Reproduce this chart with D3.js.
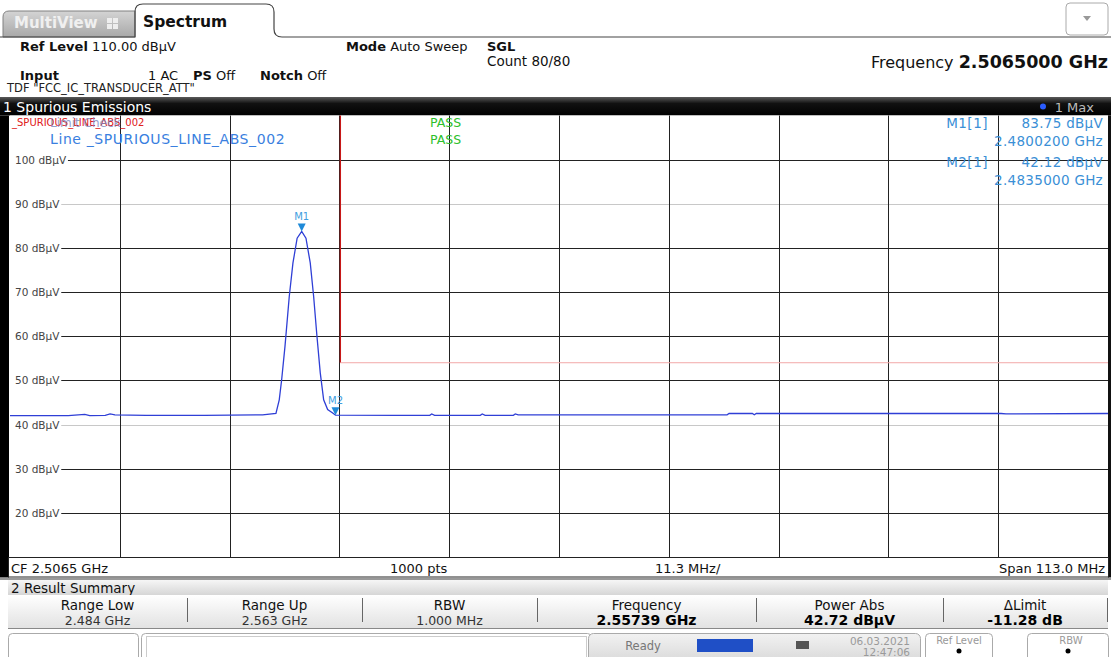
<!DOCTYPE html>
<html>
<head>
<meta charset="utf-8">
<script src="https://cdn.jsdelivr.net/npm/d3@7.9.0/dist/d3.min.js"></script>
<style>
  html, body { margin: 0; padding: 0; background: #fff; }
  svg { display: block; font-family: "DejaVu Sans", Verdana, sans-serif; }
</style>
</head>
<body>
<div id="chart"></div>
<script>
// trace (GHz, dBµV)
const traceFreq = [
  2.4500, 2.4560, 2.4577, 2.4582, 2.4598, 2.4603, 2.4608, 2.4640, 2.4700, 2.4760,
  2.47737, 2.47771, 2.47796, 2.47830, 2.47874, 2.47912, 2.47955, 2.48002,
  2.48046, 2.48090, 2.48125, 2.48159, 2.48193, 2.48228, 2.48269, 2.48321, 2.4835,
  2.4900, 2.4932, 2.4934, 2.4937, 2.4984, 2.4986, 2.4989, 2.5018, 2.5020, 2.5023,
  2.5100, 2.5238, 2.5240, 2.5264, 2.5266, 2.5268, 2.5400, 2.5520, 2.5525, 2.5630,
];
const traceLevel = [
  42.0, 42.0, 42.3, 42.0, 42.1, 42.4, 42.2, 42.1, 42.1, 42.2,
  42.5, 45.6, 50.2, 57.7, 69.0, 76.6, 82.2, 83.75,
  82.2, 76.6, 69.0, 60.0, 51.7, 45.6, 43.4, 42.6, 42.12,
  42.1, 42.1, 42.4, 42.1, 42.1, 42.4, 42.1, 42.1, 42.4, 42.2,
  42.2, 42.2, 42.5, 42.5, 42.2, 42.5, 42.5, 42.5, 42.4, 42.5,
];

// limit line _SPURIOUS_LINE_ABS_002
const limitFreq = [2.45, 2.484, 2.484, 2.563];
const limitLevel = [118, 118, 54, 54];

const markers = [
  { name: 'M1', freq: 2.48002, level: 83.75, label: 'M1[1]', value: '83.75 dBµV', freqText: '2.4800200 GHz' },
  { name: 'M2', freq: 2.4835, level: 42.12, label: 'M2[1]', value: '42.12 dBµV', freqText: '2.4835000 GHz' },
];

const yTicks = [100, 90, 80, 70, 60, 50, 40, 30, 20];
const lightTicks = [90, 40];
const xGrid = [2.4613, 2.4726, 2.4839, 2.4952, 2.5065, 2.5178, 2.5291, 2.5404, 2.5517];

const summaryHeads = ['Range Low', 'Range Up', 'RBW', 'Frequency', 'Power Abs', 'ΔLimit'];
const summaryValues = ['2.484 GHz', '2.563 GHz', '1.000 MHz', '2.55739 GHz', '42.72 dBµV', '-11.28 dB'];
const summaryBold = [false, false, false, true, true, true];

const width = 1111;
const height = 657;
const plot = { left: 10, right: 1108, top: 115.5, bottom: 557 };

const svg = d3.select('#chart').append('svg')
  .attr('width', width).attr('height', height);

const defs = svg.append('defs');
function grad(id, stops) {
  const g = defs.append('linearGradient').attr('id', id)
    .attr('x1', 0).attr('y1', 0).attr('x2', 0).attr('y2', 1);
  stops.forEach(([o, c]) => g.append('stop').attr('offset', o).attr('stop-color', c));
}
grad('gTab', [[0, '#d4d4d4'], [1, '#a8a8a8']]);
grad('gBar', [[0, '#5a5a5a'], [0.35, '#111'], [1, '#000']]);
grad('gSum', [[0, '#f6f6f6'], [1, '#d6d6d6']]);
grad('gRow', [[0, '#ffffff'], [1, '#e2e2e2']]);
grad('gStatus', [[0, '#f2f2f2'], [1, '#d8d8d8']]);
defs.append('clipPath').attr('id', 'clip').append('rect')
  .attr('x', plot.left).attr('y', plot.top)
  .attr('width', plot.right - plot.left).attr('height', plot.bottom - plot.top);

// ---- tabs ----
svg.append('path')
  .attr('d', 'M3,37 L3,17 Q3,11 9,11 L135,11 L135,37 Z')
  .attr('fill', 'url(#gTab)').attr('stroke', '#808080');
svg.append('text').attr('x', 14).attr('y', 28)
  .attr('font-size', 15).attr('font-weight', 'bold').attr('fill', '#f0f0f0')
  .text('MultiView');
const icon = svg.append('g').attr('fill', '#eee');
[[107, 18], [113, 18], [107, 24], [113, 24]].forEach(([x, y]) =>
  icon.append('rect').attr('x', x).attr('y', y).attr('width', 5).attr('height', 5));
svg.append('path')
  .attr('d', 'M0,37 L135,37 L135,12 Q135,4 143,4 L266,4 Q274,4 274,12 L274,29 Q274,37 282,37 L1111,37')
  .attr('fill', 'none').attr('stroke', '#444').attr('stroke-width', 1.2);
svg.append('path').attr('d', 'M136,37 L136,12 Q136,5 143,5 L266,5 Q273,5 273,12 L273,37 Z')
  .attr('fill', '#fff');
svg.append('text').attr('x', 143).attr('y', 27)
  .attr('font-size', 15.5).attr('font-weight', 'bold').attr('fill', '#111')
  .text('Spectrum');

// dropdown
svg.append('rect').attr('x', 1066).attr('y', 3).attr('width', 42).attr('height', 32)
  .attr('rx', 4).attr('fill', '#fff').attr('stroke', '#aaa');
svg.append('path').attr('d', 'M1083,16 L1091,16 L1087,21 Z').attr('fill', '#999');

// ---- header info ----
function rich(x, y, parts, size = 13) {
  const t = svg.append('text').attr('x', x).attr('y', y)
    .attr('font-size', size).attr('fill', '#111');
  parts.forEach(([s, b, dx]) => {
    const sp = t.append('tspan').text(s);
    if (b) sp.attr('font-weight', 'bold');
    if (dx !== undefined) sp.attr('x', dx);
  });
  return t;
}
rich(20, 51, [['Ref Level', true], [' 110.00 dBµV', false]]);
rich(346, 51, [['Mode', true], [' Auto Sweep', false]]);
rich(487, 51, [['SGL', true]]);
rich(487, 66, [['Count 80/80', false]], 13.5);
rich(20, 80, [['Input', true], ['1 AC', false, 148], ['PS', true, 193], [' Off', false], ['Notch', true, 260], [' Off', false]]);
svg.append('text').attr('x', 7).attr('y', 92).attr('font-size', 11.5).attr('fill', '#222')
  .text('TDF "FCC_IC_TRANSDUCER_ATT"');
const fq = svg.append('text').attr('x', 1108).attr('y', 68).attr('text-anchor', 'end')
  .attr('fill', '#111');
fq.append('tspan').attr('font-size', 16).text('Frequency  ');
fq.append('tspan').attr('font-size', 17.5).attr('font-weight', 'bold').text('2.5065000 GHz');

// ---- window title bar ----
svg.append('rect').attr('x', 0).attr('y', 97).attr('width', 1111).attr('height', 18.5)
  .attr('fill', 'url(#gBar)');
svg.append('text').attr('x', 3).attr('y', 112).attr('font-size', 14).attr('fill', '#fff')
  .text('1 Spurious Emissions');
svg.append('circle').attr('cx', 1043).attr('cy', 106.5).attr('r', 3).attr('fill', '#2a5cff');
svg.append('text').attr('x', 1094).attr('y', 112).attr('text-anchor', 'end')
  .attr('font-size', 13).attr('fill', '#bbb').text('1 Max');

// ---- plot ----
svg.append('rect').attr('x', 0).attr('y', 115.5).attr('width', 9).attr('height', 462).attr('fill', '#000');
svg.append('rect').attr('x', plot.left).attr('y', plot.top)
  .attr('width', plot.right - plot.left).attr('height', plot.bottom - plot.top).attr('fill', '#fff');
svg.append('rect').attr('x', 1108).attr('y', 115.5).attr('width', 3).attr('height', 462).attr('fill', '#111');

const x = d3.scaleLinear().domain([2.45, 2.563]).range([plot.left, plot.right]);
const y = d3.scaleLinear().domain([10, 110]).range([plot.bottom, plot.top]);

const grid = svg.append('g');
grid.selectAll('line.h').data(yTicks).join('line')
  .attr('x1', plot.left).attr('x2', plot.right)
  .attr('y1', (d) => Math.round(y(d)) + 0.5).attr('y2', (d) => Math.round(y(d)) + 0.5)
  .attr('stroke', (d) => (lightTicks.includes(d) ? '#c8c8c8' : '#222'));
grid.selectAll('line.v').data(xGrid).join('line')
  .attr('y1', plot.top).attr('y2', plot.bottom)
  .attr('x1', (d) => Math.round(x(d)) + 0.5).attr('x2', (d) => Math.round(x(d)) + 0.5)
  .attr('stroke', '#222');

const yLab = svg.append('g');
yTicks.forEach((d) => {
  const t = yLab.append('text').attr('x', 15).attr('y', y(d) + 4)
    .attr('font-size', 10.5).attr('fill', '#444').text(`${d} dBµV`);
  const bb = t.node().getBBox();
  yLab.insert('rect', 'text').attr('x', plot.left).attr('y', y(d) - 3)
    .attr('width', bb.x + bb.width - plot.left + 1).attr('height', 6).attr('fill', '#fff');
});

const clipped = svg.append('g').attr('clip-path', 'url(#clip)');
// limit line: vertical edge red, horizontal thin pink
const limitPts = limitFreq.map((f, i) => [f, limitLevel[i]]);
for (let i = 0; i < limitPts.length - 1; i++) {
  const [a, b] = [limitPts[i], limitPts[i + 1]];
  const vertical = a[0] === b[0];
  clipped.append('line')
    .attr('x1', x(a[0])).attr('y1', y(a[1])).attr('x2', x(b[0])).attr('y2', y(b[1]))
    .attr('stroke', vertical ? '#c81818' : '#f2a8a8').attr('stroke-width', vertical ? 1.3 : 1);
}

const traceLine = d3.line().x((d) => x(d[0])).y((d) => y(d[1]));
clipped.append('path')
  .datum(traceFreq.map((f, i) => [f, traceLevel[i]]))
  .attr('d', traceLine)
  .attr('fill', 'none').attr('stroke', '#2f3fd6').attr('stroke-width', 1.3);

// markers
markers.forEach((m) => {
  const mx = x(m.freq);
  const my = y(m.level);
  svg.append('path').attr('d', `M${mx - 4},${my - 8} L${mx + 4},${my - 8} L${mx},${my} Z`)
    .attr('fill', '#1f8ad8');
  svg.append('text').attr('x', mx).attr('y', my - 11).attr('text-anchor', 'middle')
    .attr('font-size', 10).attr('fill', '#3f9ee0').text(m.name);
});

// limit check texts (they overlap on the instrument screen too)
svg.append('text').attr('x', 12).attr('y', 126).attr('font-size', 10).attr('fill', '#e02020')
  .text('_SPURIOUS_LINE_ABS_002');
svg.append('text').attr('x', 50).attr('y', 127).attr('font-size', 12).attr('fill', '#7a86c0')
  .attr('opacity', 0.8).text('Limit Check');
svg.append('text').attr('x', 50).attr('y', 144).attr('font-size', 14).attr('letter-spacing', 0.6)
  .attr('fill', '#3a7fe0').text('Line  _SPURIOUS_LINE_ABS_002');
svg.append('text').attr('x', 430).attr('y', 127).attr('font-size', 12.5).attr('fill', '#2cc02c')
  .text('PASS');
svg.append('text').attr('x', 430).attr('y', 144).attr('font-size', 12.5).attr('fill', '#2cc02c')
  .text('PASS');

// marker table
markers.forEach((m, i) => {
  const by = 128 + i * 39;
  svg.append('text').attr('x', 988).attr('y', by).attr('text-anchor', 'end')
    .attr('font-size', 13.5).attr('letter-spacing', 0.5).attr('fill', '#3a8fd6').text(m.label);
  svg.append('text').attr('x', 1103).attr('y', by).attr('text-anchor', 'end')
    .attr('font-size', 13.5).attr('letter-spacing', 0.3).attr('fill', '#3a8fd6').text(m.value);
  svg.append('text').attr('x', 1103).attr('y', by + 18).attr('text-anchor', 'end')
    .attr('font-size', 13.5).attr('letter-spacing', 0.3).attr('fill', '#3a8fd6').text(m.freqText);
});

// ---- bottom scale strip ----
svg.append('rect').attr('x', 8.5).attr('y', 557.5).attr('width', 1100).attr('height', 19.5)
  .attr('fill', '#fff').attr('stroke', '#222');
svg.append('text').attr('x', 11).attr('y', 573).attr('font-size', 13).attr('fill', '#111').text('CF 2.5065 GHz');
svg.append('text').attr('x', 390).attr('y', 573).attr('font-size', 13).attr('fill', '#111').text('1000 pts');
svg.append('text').attr('x', 655).attr('y', 573).attr('font-size', 13).attr('fill', '#111').text('11.3 MHz/');
svg.append('text').attr('x', 1105).attr('y', 573).attr('text-anchor', 'end')
  .attr('font-size', 13).attr('fill', '#111').text('Span 113.0 MHz');

// ---- result summary ----
svg.append('rect').attr('x', 0).attr('y', 578).attr('width', 1111).attr('height', 2).attr('fill', '#999');
svg.append('rect').attr('x', 8).attr('y', 580).attr('width', 1100).attr('height', 15).attr('fill', 'url(#gSum)');
svg.append('text').attr('x', 11).attr('y', 593).attr('font-size', 13.5).attr('fill', '#111').text('2 Result Summary');
svg.append('rect').attr('x', 8).attr('y', 595).attr('width', 1100).attr('height', 33).attr('fill', 'url(#gRow)');
svg.append('line').attr('x1', 8).attr('x2', 1108).attr('y1', 628.5).attr('y2', 628.5).attr('stroke', '#888');

const colEdges = [8, 187, 362, 537, 756, 943, 1107];
const colX = d3.scaleOrdinal().domain(summaryHeads)
  .range(summaryHeads.map((_, i) => (colEdges[i] + colEdges[i + 1]) / 2));
svg.append('g').selectAll('line').data(colEdges.slice(1)).join('line')
  .attr('x1', (d) => d + 0.5).attr('x2', (d) => d + 0.5).attr('y1', 598).attr('y2', 622)
  .attr('stroke', '#666');
svg.append('g').selectAll('text').data(summaryHeads).join('text')
  .attr('x', (d) => colX(d)).attr('y', 610).attr('text-anchor', 'middle')
  .attr('font-size', 13.5).attr('fill', '#111').text((d) => d);
svg.append('g').selectAll('text').data(summaryValues).join('text')
  .attr('x', (d, i) => colX(summaryHeads[i])).attr('y', 625).attr('text-anchor', 'middle')
  .attr('font-size', (d, i) => (summaryBold[i] ? 14 : 12.5))
  .attr('font-weight', (d, i) => (summaryBold[i] ? 'bold' : 'normal'))
  .attr('fill', (d, i) => (summaryBold[i] ? '#000' : '#333'))
  .text((d) => d);

// ---- status bar ----
svg.append('rect').attr('x', 0).attr('y', 629).attr('width', 1111).attr('height', 28).attr('fill', '#fff');
svg.append('rect').attr('x', 8.5).attr('y', 633.5).attr('width', 130).attr('height', 30).attr('rx', 4)
  .attr('fill', '#fff').attr('stroke', '#aaa');
svg.append('rect').attr('x', 141.5).attr('y', 633.5).attr('width', 450).attr('height', 30).attr('rx', 4)
  .attr('fill', '#fff').attr('stroke', '#aaa');
svg.append('rect').attr('x', 146.5).attr('y', 636.5).attr('width', 440).attr('height', 30)
  .attr('fill', 'none').attr('stroke', '#ccc');
svg.append('rect').attr('x', 588.5).attr('y', 633.5).attr('width', 332).attr('height', 30).attr('rx', 5)
  .attr('fill', 'url(#gStatus)').attr('stroke', '#aaa');
svg.append('text').attr('x', 643).attr('y', 650).attr('text-anchor', 'middle')
  .attr('font-size', 11.5).attr('fill', '#777').text('Ready');
svg.append('rect').attr('x', 697).attr('y', 639).attr('width', 56).attr('height', 13).attr('fill', '#1f4fc6');
svg.append('rect').attr('x', 796).attr('y', 641).attr('width', 13).attr('height', 8).attr('fill', '#555');
svg.append('text').attr('x', 910).attr('y', 645).attr('text-anchor', 'end')
  .attr('font-size', 10.5).attr('fill', '#9a9a9a').text('06.03.2021');
svg.append('text').attr('x', 910).attr('y', 656).attr('text-anchor', 'end')
  .attr('font-size', 10.5).attr('fill', '#9a9a9a').text('12:47:06');
svg.append('rect').attr('x', 925.5).attr('y', 633.5).attr('width', 67).attr('height', 30).attr('rx', 4)
  .attr('fill', '#fff').attr('stroke', '#aaa');
svg.append('text').attr('x', 959).attr('y', 644).attr('text-anchor', 'middle')
  .attr('font-size', 10).attr('fill', '#999').text('Ref Level');
svg.append('circle').attr('cx', 959).attr('cy', 651).attr('r', 2.5).attr('fill', '#000');
svg.append('rect').attr('x', 1027.5).attr('y', 633.5).attr('width', 81).attr('height', 30).attr('rx', 4)
  .attr('fill', '#fff').attr('stroke', '#aaa');
svg.append('text').attr('x', 1071).attr('y', 644).attr('text-anchor', 'middle')
  .attr('font-size', 10).attr('fill', '#999').text('RBW');
svg.append('circle').attr('cx', 1068).attr('cy', 651).attr('r', 2.5).attr('fill', '#000');
</script>
</body>
</html>
